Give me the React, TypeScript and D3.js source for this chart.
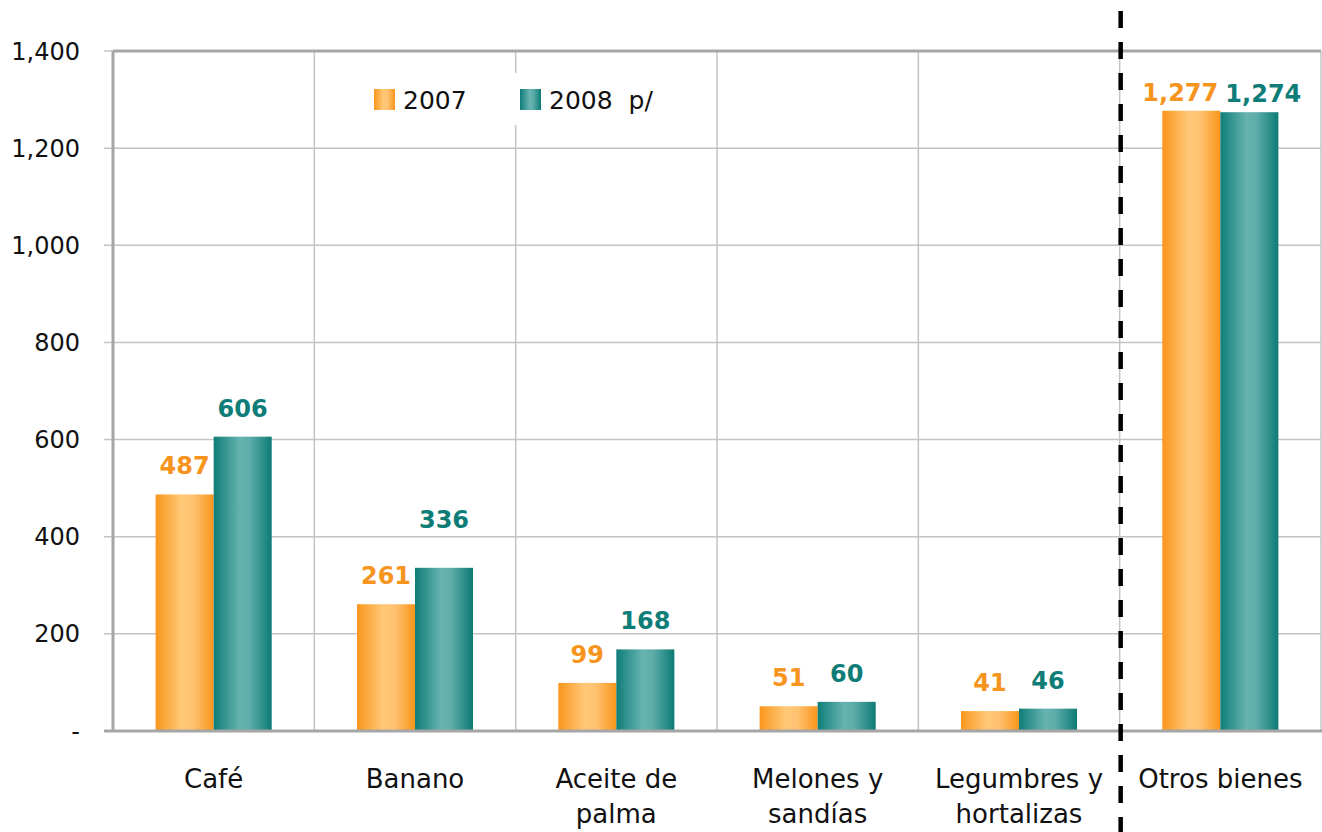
import * as d3 from "d3";

const categories = [
  ["Café"],
  ["Banano"],
  ["Aceite de", "palma"],
  ["Melones y", "sandías"],
  ["Legumbres y", "hortalizas"],
  ["Otros bienes"],
];
const seriesNames = ["2007", "2008  p/"];
const values2007 = [487, 261, 99, 51, 41, 1277];
const values2008 = [606, 336, 168, 60, 46, 1274];
const yTicks = [0, 200, 400, 600, 800, 1000, 1200, 1400];

const W = 1322;
const H = 832;
const margin = { left: 113, right: 1, top: 51, bottom: 101 };

const fills = ["url(#gradOrange)", "url(#gradTeal)"];
const labelColors = ["#F7941D", "#0E7D78"];
const font = "'DejaVu Sans', Verdana, sans-serif";

export default function App() {
  const catKeys = categories.map((c) => c.join(" "));
  const x0 = d3
    .scaleBand<string>()
    .domain(catKeys)
    .range([margin.left, W - margin.right])
    .paddingInner(0)
    .paddingOuter(0);
  const x1 = d3
    .scaleBand<string>()
    .domain(seriesNames)
    .range([0, x0.bandwidth()])
    .paddingInner(0)
    .paddingOuter(0.735);
  const y = d3
    .scaleLinear()
    .domain([0, 1400])
    .range([H - margin.bottom, margin.top]);

  const fmt = d3.format(",");
  const series = [values2007, values2008];
  const plotBottom = y(0);
  const plotTop = y(1400);
  const dashedX = x0(catKeys[5])!;

  // label lift above bar top (Excel placed a few by hand)
  const lift = (ci: number, si: number) => {
    if (ci === 5) return si === 0 ? 10 : 10;
    if (ci === 1 && si === 1) return 40;
    return 20;
  };
  // sideways nudge so the wide labels over "Otros bienes" don't collide
  const nudge = (ci: number, si: number) => (ci === 5 ? (si === 0 ? -11 : 14) : 0);

  return (
    <svg
      width={W}
      height={H}
      style={{ position: "absolute", left: 0, top: 0, background: "#fff" }}
      fontFamily={font}
    >
      <defs>
        <linearGradient id="gradOrange" x1="0" x2="1" y1="0" y2="0">
          <stop offset="0" stopColor="#F9961C" />
          <stop offset="0.45" stopColor="#FFC878" />
          <stop offset="0.65" stopColor="#FFC270" />
          <stop offset="1" stopColor="#F9951B" />
        </linearGradient>
        <linearGradient id="gradTeal" x1="0" x2="1" y1="0" y2="0">
          <stop offset="0" stopColor="#0F7D78" />
          <stop offset="0.45" stopColor="#66B3B0" />
          <stop offset="0.62" stopColor="#5FADAA" />
          <stop offset="1" stopColor="#0C7A75" />
        </linearGradient>
      </defs>

      {/* horizontal gridlines */}
      {yTicks.map((t) => (
        <g key={t}>
          <line
            x1={margin.left - 9}
            x2={W - margin.right}
            y1={y(t)}
            y2={y(t)}
            stroke="#c4c4c4"
            strokeWidth={1.5}
          />
          <text
            x={80}
            y={y(t)}
            dy="0.36em"
            textAnchor="end"
            fontSize={24}
            fill="#111"
          >
            {t === 0 ? "-" : fmt(t)}
          </text>
        </g>
      ))}

      {/* vertical category gridlines */}
      {catKeys.slice(1).map((k) => (
        <line
          key={k}
          x1={x0(k)}
          x2={x0(k)}
          y1={plotTop}
          y2={plotBottom}
          stroke="#c4c4c4"
          strokeWidth={1.5}
        />
      ))}
      <line x1={W - margin.right} x2={W - margin.right} y1={plotTop} y2={plotBottom} stroke="#c4c4c4" strokeWidth={1.5} />

      {/* plot border */}
      <line x1={margin.left} x2={W - margin.right} y1={plotTop} y2={plotTop} stroke="#a6a6a6" strokeWidth={3} />
      <line x1={margin.left} x2={margin.left} y1={plotTop} y2={plotBottom} stroke="#a6a6a6" strokeWidth={3} />

      {/* legend */}
      <rect x={362} y={73} width={318} height={52} fill="#fff" />
      {seriesNames.map((s, i) => (
        <g key={s} transform={`translate(${374 + i * 146},89)`}>
          <rect width={21} height={21} fill={fills[i]} />
          <text x={29} y={20} fontSize={25} fill="#111" style={{ whiteSpace: "pre" }}>
            {s}
          </text>
        </g>
      ))}

      {/* bars */}
      {catKeys.map((k, ci) => (
        <g key={k} transform={`translate(${x0(k)},0)`}>
          {series.map((vals, si) => {
            const v = vals[ci];
            const bx = x1(seriesNames[si])!;
            return (
              <g key={si}>
                <rect
                  x={bx}
                  y={y(v)}
                  width={x1.bandwidth()}
                  height={plotBottom - y(v)}
                  fill={fills[si]}
                />
                <text
                  x={bx + x1.bandwidth() / 2 + nudge(ci, si)}
                  y={y(v) - lift(ci, si)}
                  textAnchor="middle"
                  fontSize={24}
                  fontWeight="bold"
                  fill={labelColors[si]}
                >
                  {fmt(v)}
                </text>
              </g>
            );
          })}
        </g>
      ))}

      {/* x axis */}
      <line x1={margin.left - 9} x2={W} y1={plotBottom} y2={plotBottom} stroke="#a6a6a6" strokeWidth={3} />

      {/* category labels */}
      {categories.map((lines, ci) => (
        <text
          key={ci}
          x={x0(catKeys[ci])! + x0.bandwidth() / 2}
          y={788}
          textAnchor="middle"
          fontSize={26}
          fill="#111"
        >
          {lines.map((ln, li) => (
            <tspan key={li} x={x0(catKeys[ci])! + x0.bandwidth() / 2} dy={li === 0 ? 0 : 35}>
              {ln}
            </tspan>
          ))}
        </text>
      ))}

      {/* dashed separator */}
      <line
        x1={dashedX + 1}
        x2={dashedX + 1}
        y1={11}
        y2={H}
        stroke="#000"
        strokeWidth={4.5}
        strokeDasharray="17 14"
      />
    </svg>
  );
}
